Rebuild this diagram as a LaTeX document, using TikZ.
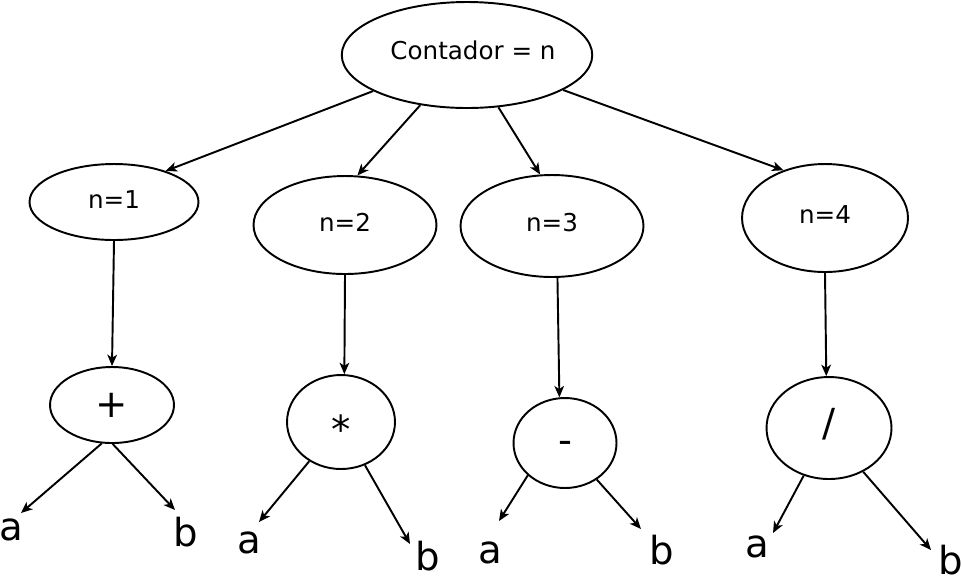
\documentclass[tikz,border=0pt]{standalone}
\usepackage{fontspec}
\setmainfont{DejaVu Sans}
\usetikzlibrary{shapes.geometric, arrows.meta}
\newcommand{\alzar}[2]{\raisebox{#1}[\height][\depth]{#2}}
\tikzset{
  elipse/.style={ellipse, draw=black, line width=1.1pt, inner sep=0pt,
                 text centered, font=\fontsize{14}{16}\selectfont},
  operador/.style={ellipse, draw=black, line width=1.1pt, inner sep=0pt,
                   text centered, font=\fontsize{22}{26}\selectfont},
  hoja/.style={inner sep=0pt, font=\fontsize{22}{26}\selectfont},
  flecha/.style={line width=1.1pt, -{Stealth[length=6.5pt, width=5.5pt, inset=1.8pt]}}
}

\begin{document}
\begin{tikzpicture}[x=0.02cm, y=-0.02cm]
  \useasboundingbox (0,0) rectangle (962,583);
  % raiz y contadores
  \node (raiz) [elipse, minimum width=4.94cm, minimum height=2.12cm] at (467,55) {\hspace{0.24cm}\alzar{0.1cm}{Contador = n}};
  \node (n1) [elipse, minimum width=3.38cm, minimum height=1.52cm] at (114,202) {\alzar{0.04cm}{n=1}};
  \node (n2) [elipse, minimum width=3.66cm, minimum height=1.96cm] at (345,225) {\alzar{0.06cm}{n=2}};
  \node (n3) [elipse, minimum width=3.66cm, minimum height=2.04cm] at (552,226) {\alzar{0.06cm}{n=3}};
  \node (n4) [elipse, minimum width=3.32cm, minimum height=2.16cm] at (825,218) {\alzar{0.06cm}{n=4}};
  % operadores
  \node (suma) [operador, minimum width=2.48cm, minimum height=1.52cm] at (112,405) {+};
  \node (mult) [operador, minimum width=2.16cm, minimum height=1.88cm] at (341,422) {\alzar{-0.14cm}{*}};
  \node (resta) [operador, minimum width=2.06cm, minimum height=1.80cm] at (565,443) {\alzar{-0.08cm}{-}};
  \node (divi) [operador, minimum width=2.50cm, minimum height=2.04cm] at (829,428) {\alzar{0.07cm}{/}};
  % hojas
  \node (a1) [hoja] at (11,530) {a};
  \node (b1) [hoja] at (186,532) {b};
  \node (a2) [hoja] at (249,543) {a};
  \node (b2) [hoja] at (428,556) {b};
  \node (a3) [hoja] at (490,553) {a};
  \node (b3) [hoja] at (662,550) {b};
  \node (a4) [hoja] at (757,547) {a};
  \node (b4) [hoja] at (951,560) {b};
  \coordinate (pa1) at (21,513);  \coordinate (pb1) at (175,510);
  \coordinate (pa2) at (259,522); \coordinate (pb2) at (410,544);
  \coordinate (pa3) at (499,521); \coordinate (pb3) at (641,529);
  \coordinate (pa4) at (773,533); \coordinate (pb4) at (931,550);
  % flechas
  \draw [flecha] (raiz.201) -- (n1.31.5);
  \draw [flecha] (raiz.227.4) -- (n2.76);
  \draw [flecha] (raiz.301.6) -- (n3.103.5);
  \draw [flecha] (raiz.340) -- (n4.131);
  \draw [flecha] (n1.south) -- (suma.north);
  \draw [flecha] (n2.south) -- (mult.86);
  \draw [flecha] (n3.276.6) -- (resta.97);
  \draw [flecha] (n4.south) -- (divi.93.3);
  \draw [flecha] (suma.255.7) -- (pa1); \draw [flecha] (suma.271.4) -- (pb1);
  \draw [flecha] (mult.231.3) -- (pa2); \draw [flecha] (mult.299) -- (pb2);
  \draw [flecha] (resta.221.8) -- (pa3); \draw [flecha] (resta.311) -- (pb3);
  \draw [flecha] (divi.242.5) -- (pa4); \draw [flecha] (divi.308.8) -- (pb4);
\end{tikzpicture}
\end{document}
